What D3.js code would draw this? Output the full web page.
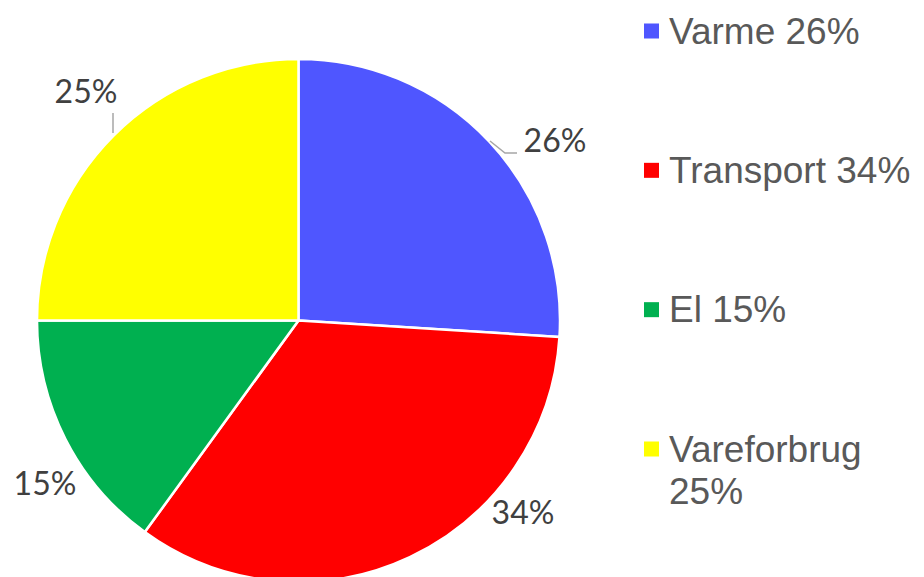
<!DOCTYPE html>
<html>
<head>
<meta charset="utf-8">
<script src="https://cdn.jsdelivr.net/npm/d3@7"></script>
<style>
  body { margin: 0; background: #fff; }
  svg { display: block; }
</style>
</head>
<body>
<div id="chart"></div>
<script>
const categories = ["Varme", "Transport", "El", "Vareforbrug"];
const shares = [26, 34, 15, 25];
const colors = ["#4F56FF", "#FF0000", "#00B050", "#FFFF00"];
const legendLines = [["Varme 26%"], ["Transport 34%"], ["El 15%"], ["Vareforbrug", "25%"]];

const width = 924, height = 577;
const cx = 298.5, cy = 320.5, r = 261.5;

const svg = d3.select("#chart").append("svg")
    .attr("width", width)
    .attr("height", height);

const data = categories.map((c, i) => ({ name: c, value: shares[i], color: colors[i] }));

const pie = d3.pie().sort(null).value(d => d.value);
const arc = d3.arc().innerRadius(0).outerRadius(r);
const arcs = pie(data);

const g = svg.append("g").attr("transform", `translate(${cx},${cy})`);

g.selectAll("path")
    .data(arcs)
    .enter()
    .append("path")
    .attr("d", arc)
    .attr("fill", d => d.data.color)
    .attr("stroke", "#fff")
    .attr("stroke-width", 2.5)
    .attr("stroke-linejoin", "round");

// label spots (outside the rim, like Excel's best fit)
const labelPos = [[555, 141], [523, 513], [45, 484], [86, 92]];

svg.selectAll("text.lbl")
    .data(arcs)
    .enter()
    .append("text")
    .attr("class", "lbl")
    .attr("x", (d, i) => labelPos[i][0])
    .attr("y", (d, i) => labelPos[i][1])
    .attr("dy", "0.35em")
    .attr("text-anchor", "middle")
    .attr("font-family", "Lato, 'Open Sans', sans-serif")
    .attr("font-size", 32)
    .attr("fill", "#404040")
    .text(d => d.data.value + "%");

// leader lines
const leaders = [
    [[490, 141], [505, 153], [517, 153]],
    [[113, 113], [113, 133]]
];
svg.selectAll("path.leader")
    .data(leaders)
    .enter()
    .append("path")
    .attr("class", "leader")
    .attr("d", d3.line())
    .attr("fill", "none")
    .attr("stroke", "#A6A6A6")
    .attr("stroke-width", 1.5);

// legend
const legendY = d3.scalePoint().domain(categories).range([31, 449]);
const items = svg.append("g").selectAll("g")
    .data(data)
    .enter()
    .append("g")
    .attr("transform", d => `translate(0,${legendY(d.name)})`);

items.append("rect")
    .attr("x", 644)
    .attr("y", -7.5)
    .attr("width", 15)
    .attr("height", 15)
    .attr("fill", d => d.color);

items.append("text")
    .attr("font-family", "'Liberation Sans', Arial, sans-serif")
    .attr("font-size", 37)
    .attr("fill", "#595959")
    .selectAll("tspan")
    .data((d, i) => legendLines[i])
    .enter()
    .append("tspan")
    .attr("x", 669)
    .attr("y", (d, j) => 12.5 + j * 42)
    .text(d => d);
</script>
</body>
</html>
